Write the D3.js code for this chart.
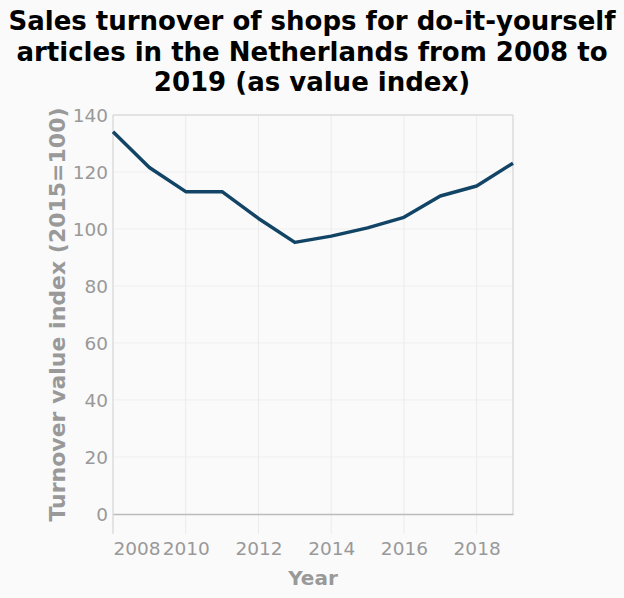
<!DOCTYPE html>
<html>
<head>
<meta charset="utf-8">
<style>
  body { margin: 0; background: #fafafa; }
  svg { display: block; font-family: "DejaVu Sans", sans-serif; }
  .title { font-weight: bold; font-size: 26px; fill: #000; }
  .tick text { fill: #999; font-size: 18.5px; font-family: "DejaVu Sans", sans-serif; }
  .axis-label { fill: #999; font-weight: bold; font-size: 20px; }
</style>
</head>
<body>
<div id="chart"></div>
<script src="https://d3js.org/d3.v7.min.js"></script>
<script>
// values
var years = [2008, 2009, 2010, 2011, 2012, 2013, 2014, 2015, 2016, 2017, 2018, 2019];
var index = [134.1, 121.6, 113.1, 113.1, 103.7, 95.3, 97.5, 100.4, 104.1, 111.6, 115.1, 123.1];
var xTicks = [2008, 2010, 2012, 2014, 2016, 2018];
var yTicks = [0, 20, 40, 60, 80, 100, 120, 140];
var titleLines = ["Sales turnover of shops for do-it-yourself",
                  "articles in the Netherlands from 2008 to",
                  "2019 (as value index)"];

var W = 624, H = 598;
var margin = {top: 115, right: 111, bottom: 84, left: 113};
var width = W - margin.left - margin.right,
    height = H - margin.top - margin.bottom;

var svg = d3.select("#chart").append("svg")
    .attr("width", W)
    .attr("height", H);

svg.append("rect").attr("width", W).attr("height", H).attr("fill", "#fafafa");

svg.append("g").selectAll("text")
    .data(titleLines)
    .enter().append("text")
      .attr("class", "title")
      .attr("x", W / 2)
      .attr("y", (d, i) => 30 + i * 30.5)
      .attr("text-anchor", "middle")
      .text(d => d);

var x = d3.scaleLinear().domain([2008, 2019]).range([0, width]);
var y = d3.scaleLinear().domain([0, 140]).range([height, 0]);

var g = svg.append("g")
    .attr("transform", "translate(" + margin.left + "," + margin.top + ")");

// grid
g.append("g").selectAll("line")
    .data(yTicks.slice(1))
    .enter().append("line")
      .attr("x1", 0).attr("x2", width)
      .attr("y1", d => y(d)).attr("y2", d => y(d))
      .attr("stroke", "#efefef");

g.append("g").selectAll("line")
    .data(xTicks.slice(1))
    .enter().append("line")
      .attr("x1", d => x(d)).attr("x2", d => x(d))
      .attr("y1", 0).attr("y2", height + 20)
      .attr("stroke", "#ebebeb");

// frame
g.append("line").attr("x1", 0).attr("x2", width).attr("y1", 0).attr("y2", 0).attr("stroke", "#ddd").attr("stroke-width", 1.5);
g.append("line").attr("x1", width).attr("x2", width).attr("y1", 0).attr("y2", height).attr("stroke", "#ddd").attr("stroke-width", 1.5);
g.append("line").attr("x1", 0).attr("x2", 0).attr("y1", 0).attr("y2", height + 20).attr("stroke", "#ddd").attr("stroke-width", 1.5);

// axes
g.append("g")
    .attr("transform", `translate(0,${height})`)
    .call(d3.axisBottom(x).tickValues(xTicks).tickFormat(d3.format("d")).tickSize(0).tickPadding(28))
    .call(g => g.select(".domain").attr("stroke", "#bbb").attr("stroke-width", 1.5))
    .call(g => g.selectAll(".tick text").filter(d => d === 2008).attr("text-anchor", "start"));

g.append("g")
    .call(d3.axisLeft(y).tickValues(yTicks).tickSize(0).tickPadding(5))
    .call(g => g.select(".domain").remove())
    .call(g => g.selectAll(".tick text").attr("dy", "0.36em"));

svg.append("text")
    .attr("class", "axis-label")
    .attr("x", margin.left + width / 2)
    .attr("y", 585)
    .attr("text-anchor", "middle")
    .text("Year");

svg.append("text")
    .attr("class", "axis-label")
    .style("font-size", "22px")
    .attr("transform", "translate(65," + (margin.top + height / 2) + ") rotate(-90)")
    .attr("text-anchor", "middle")
    .text("Turnover value index (2015=100)");

// line
var line = d3.line()
    .x((d, i) => x(years[i]))
    .y(d => y(d));

g.append("path")
    .datum(index)
    .attr("fill", "none")
    .attr("stroke", "#124466")
    .attr("stroke-width", 3.5)
    .attr("stroke-linejoin", "round")
    .attr("d", line);
</script>
</body>
</html>
